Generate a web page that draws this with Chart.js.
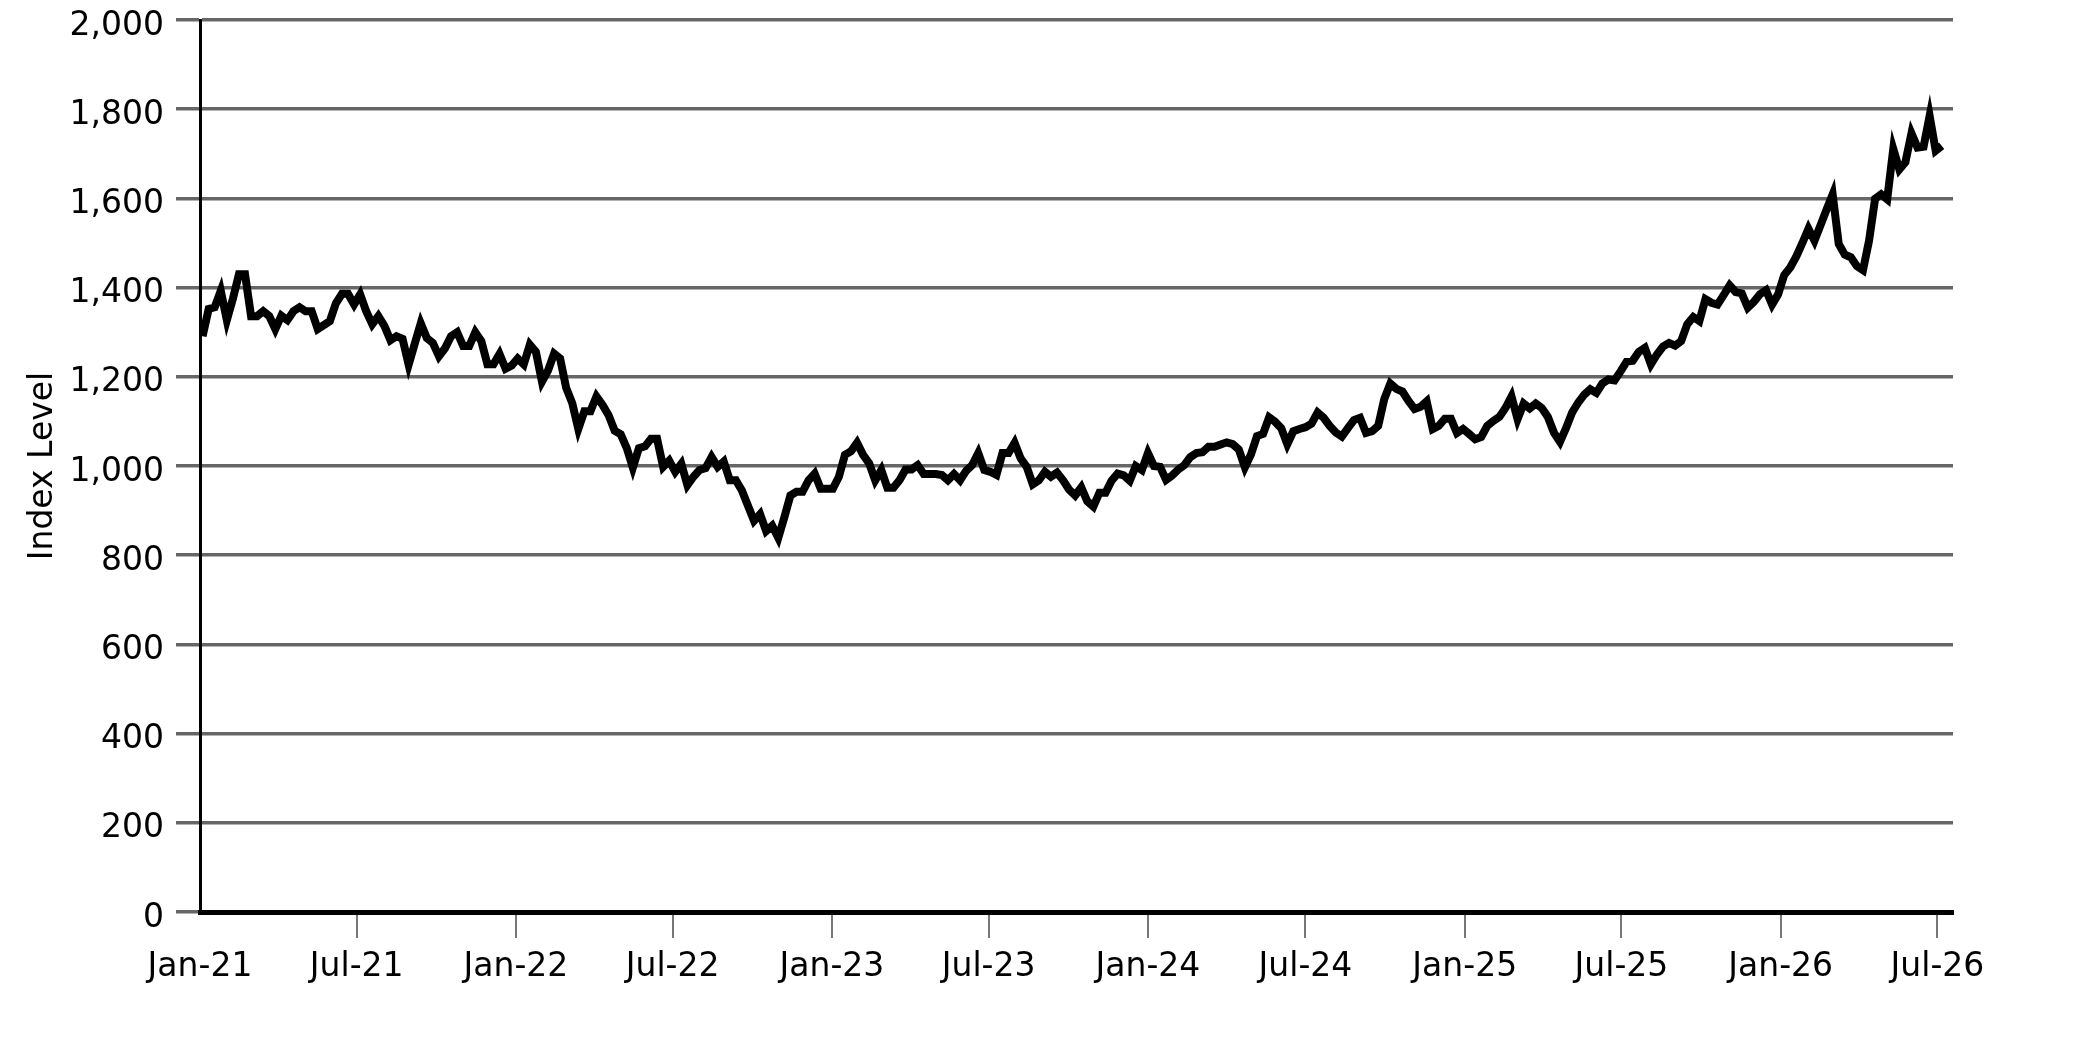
<!DOCTYPE html>
<html>
<head>
<meta charset="utf-8">
<script src="https://cdn.jsdelivr.net/npm/chart.js@4.4.0/dist/chart.umd.min.js"></script>
<style>
  html, body { margin: 0; padding: 0; background: #fff; overflow: hidden; }
  canvas { display: block; }
</style>
</head>
<body>
<canvas id="indexChart" width="2083" height="1042"></canvas>
<script>
// weekly index level, first week starts Mon 4 Jan 2021
const firstWeek = "2021-01-04";
const values2021 = [1291, 1352, 1356, 1393, 1327, 1375, 1430, 1430, 1336, 1336,
    1347, 1336, 1307, 1337, 1327, 1347, 1356, 1347, 1347, 1307,
    1316, 1325, 1365, 1386, 1386, 1362, 1385, 1347, 1318, 1336,
    1314, 1282, 1291, 1285, 1227, 1274, 1320, 1287, 1276, 1246,
    1264, 1291, 1300, 1269, 1269, 1300, 1280, 1228, 1228, 1251,
    1218, 1225];
const values2022 = [1241, 1228, 1272, 1256, 1189, 1214, 1252, 1241, 1175, 1141,
    1083, 1123, 1123, 1156, 1137, 1114, 1079, 1071, 1040, 996,
    1040, 1044, 1061, 1061, 998, 1012, 987, 1005, 957, 976,
    991, 995, 1020, 998, 1010, 968, 968, 945, 911, 877,
    892, 854, 866, 839, 885, 934, 942, 942, 968, 983,
    949, 949];
const values2023 = [949, 976, 1025, 1033, 1052, 1025, 1006, 968, 991, 951,
    951, 968, 992, 992, 1002, 982, 982, 982, 980, 968,
    982, 968, 989, 1002, 1029, 991, 987, 980, 1029, 1029,
    1052, 1017, 998, 959, 968, 987, 976, 985, 968, 947,
    934, 952, 921, 909, 940, 940, 967, 983, 979, 967,
    1000, 991];
const values2024 = [1029, 1000, 998, 969, 979, 992, 1002, 1020, 1029, 1031,
    1043, 1043, 1048, 1053, 1049, 1037, 997, 1026, 1067, 1072,
    1109, 1099, 1085, 1049, 1078, 1083, 1087, 1095, 1120, 1108,
    1090, 1075, 1066, 1085, 1103, 1108, 1074, 1078, 1090, 1150,
    1185, 1173, 1167, 1146, 1128, 1133, 1145, 1083, 1090, 1106,
    1106, 1074, 1083];
const values2025 = [1072, 1060, 1065, 1090, 1101, 1110, 1130, 1156, 1105, 1140,
    1129, 1140, 1130, 1110, 1075, 1054, 1085, 1120, 1142, 1160,
    1172, 1164, 1185, 1194, 1192, 1212, 1234, 1236, 1256, 1265,
    1228, 1250, 1268, 1276, 1270, 1280, 1318, 1334, 1325, 1374,
    1366, 1362, 1383, 1405, 1390, 1387, 1355, 1368, 1385, 1394,
    1362, 1385];
const values2026 = [1428, 1445, 1470, 1500, 1532, 1505, 1540, 1575, 1609, 1498,
    1474, 1468, 1448, 1439, 1505, 1599, 1609, 1598, 1711, 1665,
    1681, 1746, 1714, 1716, 1785, 1707, 1718];

const tickDates = ["2021-01-01", "2021-07-01", "2022-01-01", "2022-07-01", "2023-01-01", "2023-07-01",
    "2024-01-01", "2024-07-01", "2025-01-01", "2025-07-01", "2026-01-01", "2026-07-01"];
const tickLabels = ["Jan-21", "Jul-21", "Jan-22", "Jul-22", "Jan-23", "Jul-23",
    "Jan-24", "Jul-24", "Jan-25", "Jul-25", "Jan-26", "Jul-26"];
const axisEnd = "2026-07-19";

// days since 1 Jan 2021
function dayOf(s) {
    return (Date.parse(s + "T00:00:00Z") - Date.parse("2021-01-01T00:00:00Z")) / 86400000;
}

const allValues = [].concat(values2021, values2022, values2023, values2024, values2025, values2026);
const start = dayOf(firstWeek);
const points = allValues.map((v, i) => ({ x: start + 7 * i, y: v }));
const tickDays = tickDates.map(dayOf);

Chart.defaults.font.family = "'DejaVu Sans', sans-serif";
const labelFont = { family: "'DejaVu Sans', sans-serif", size: 33 };

const ctx = document.getElementById("indexChart").getContext("2d");
new Chart(ctx, {
    type: "line",
    data: {
        datasets: [{
            data: points,
            borderColor: "#000",
            borderWidth: 8,
            borderJoinStyle: "miter",
            pointRadius: 0,
            fill: false,
            tension: 0
        }]
    },
    options: {
        responsive: false,
        animation: false,
        devicePixelRatio: 1,
        layout: { padding: { top: 20, right: 130, left: 0, bottom: 0 } },
        plugins: { legend: { display: false }, tooltip: { enabled: false } },
        scales: {
            x: {
                type: "linear",
                min: 0,
                max: dayOf(axisEnd),
                afterFit: s => {
                    s.height = 130;
                    s.paddingLeft = 0;
                    s.paddingRight = 0;
                },
                afterBuildTicks: s => { s.ticks = tickDays.map(v => ({ value: v })); },
                ticks: {
                    autoSkip: false,
                    maxRotation: 0,
                    padding: 10,
                    color: "#000",
                    font: labelFont,
                    callback: v => tickLabels[tickDays.indexOf(v)]
                },
                grid: {
                    drawOnChartArea: false,
                    tickLength: 26,
                    lineWidth: 2,
                    color: c => c.index === 0 ? "rgba(0,0,0,0)" : "#777"
                },
                border: { color: "#000", width: 5 }
            },
            y: {
                min: 0,
                max: 2000,
                afterFit: s => {
                    s.width = 200;
                    s.paddingTop = 0;
                    s.paddingBottom = 0;
                },
                ticks: {
                    stepSize: 200,
                    padding: 12,
                    labelOffset: 6,
                    color: "#000",
                    font: labelFont,
                    callback: v => v.toLocaleString("en-US")
                },
                grid: { color: "#666", lineWidth: 3.5, tickLength: 24 },
                border: { color: "#000", width: 3 },
                title: {
                    display: true,
                    text: "Index Level",
                    color: "#000",
                    font: labelFont,
                    padding: { top: 24, bottom: 0 }
                }
            }
        }
    }
});
</script>
</body>
</html>
